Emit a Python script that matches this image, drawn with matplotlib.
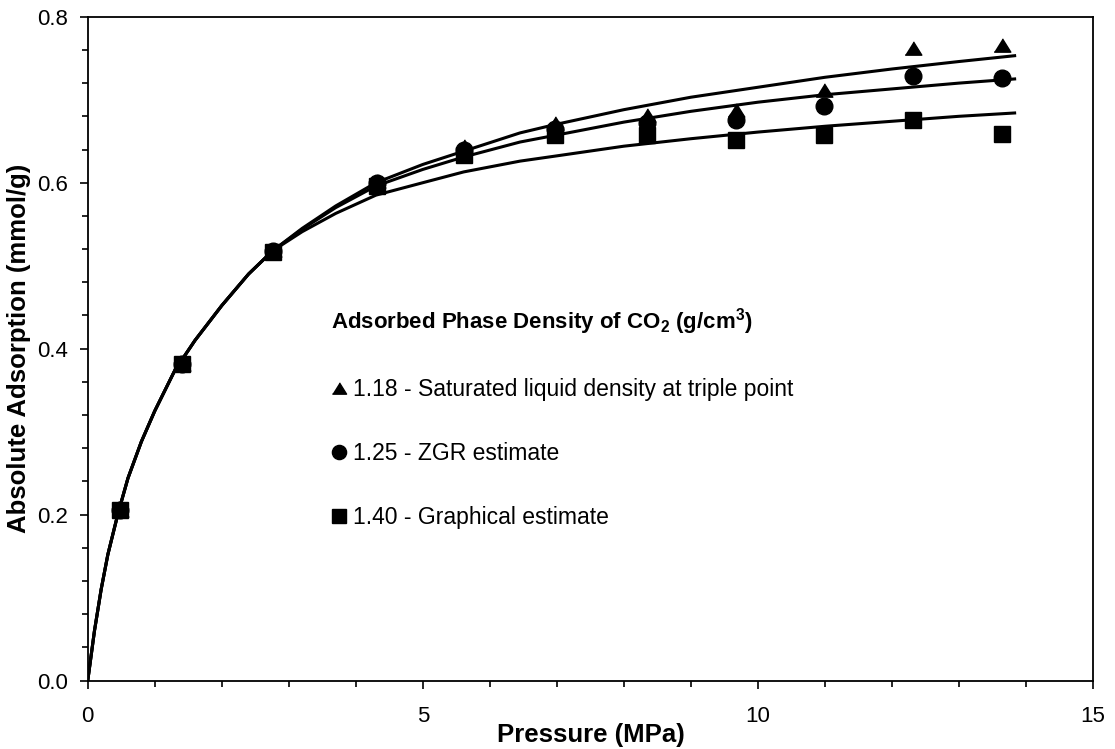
import matplotlib
matplotlib.use("Agg")
import matplotlib.pyplot as plt

plt.rcParams['font.family'] = ['Liberation Sans', 'DejaVu Sans']
plt.rcParams['mathtext.fontset'] = 'custom'
plt.rcParams['mathtext.rm'] = 'Liberation Sans'
plt.rcParams['mathtext.bf'] = 'Liberation Sans:bold'

# measured points (pressure MPa, absolute adsorption mmol/g)
pressure = [0.48, 1.40, 2.76, 4.31, 5.61, 6.97, 8.34, 9.67, 10.98, 12.32, 13.64]
ads_118 = [0.206, 0.382, 0.519, 0.602, 0.644, 0.672, 0.681, 0.688, 0.712, 0.762, 0.766]
ads_125 = [0.206, 0.382, 0.518, 0.600, 0.640, 0.665, 0.672, 0.676, 0.693, 0.729, 0.726]
ads_140 = [0.206, 0.382, 0.517, 0.596, 0.633, 0.658, 0.658, 0.652, 0.657, 0.675, 0.659]

# fitted curves
fit_p = [0, 0.1, 0.2, 0.3, 0.45, 0.6, 0.8, 1.0, 1.3, 1.6, 2.0, 2.4, 2.76,
         3.2, 3.7, 4.3, 5.0, 5.61, 6.45, 6.97, 8.0, 9.0, 10.0, 11.0, 12.0, 13.0, 13.83]
fit_low = [0, 0.06, 0.11, 0.152, 0.201, 0.244, 0.288, 0.325, 0.374, 0.410, 0.452, 0.490, 0.518]
fit_118 = fit_low + [0.545, 0.572, 0.600, 0.622, 0.638, 0.660, 0.670, 0.688, 0.703, 0.715, 0.727, 0.737, 0.746, 0.753]
fit_125 = fit_low + [0.544, 0.570, 0.596, 0.616, 0.631, 0.649, 0.657, 0.673, 0.686, 0.697, 0.706, 0.713, 0.720, 0.725]
fit_140 = fit_low + [0.541, 0.563, 0.585, 0.600, 0.613, 0.626, 0.632, 0.644, 0.653, 0.661, 0.668, 0.674, 0.680, 0.684]

labels = ['1.18 - Saturated liquid density at triple point',
          '1.25 - ZGR estimate',
          '1.40 - Graphical estimate']

tri = [(-1, -0.8), (1, -0.8), (0, 0.8)]

fig = plt.figure(figsize=(11.15, 7.49), dpi=100)
ax = fig.add_axes([0.0787, 0.0912, 0.9016, 0.8865])

for fit in [fit_118, fit_125, fit_140]:
    ax.plot(fit_p, fit, color='black', lw=2.2, zorder=2)

ax.plot(pressure, ads_118, ls='none', marker=tri, ms=12, color='black', label=labels[0], zorder=3)
ax.plot(pressure, ads_125, ls='none', marker='o', ms=12, color='black', label=labels[1], zorder=3)
ax.plot(pressure, ads_140, ls='none', marker='s', ms=11.5, color='black', label=labels[2], zorder=3)

ax.set_xlim(0, 15)
ax.set_ylim(0, 0.8)
ax.set_xticks([0, 5, 10, 15])
ax.set_xticks(range(16), minor=True)
ax.set_yticks([0.0, 0.2, 0.4, 0.6, 0.8])
ax.set_yticks([i * 0.04 for i in range(21)], minor=True)
ax.set_yticklabels(['0.0', '0.2', '0.4', '0.6', '0.8'])
ax.tick_params(axis='both', which='both', direction='out', width=1.2, colors='black', labelsize=16)
ax.tick_params(axis='both', which='major', length=5.5)
ax.tick_params(axis='both', which='minor', length=4.5)
ax.tick_params(axis='x', pad=13)
ax.tick_params(axis='y', pad=9)
for s in ax.spines.values():
    s.set_linewidth(1.3)
    s.set_color('black')

ax.set_xlabel('Pressure (MPa)', fontsize=18.5, fontweight='bold', labelpad=-3)
ax.set_ylabel('Absolute Adsorption (mmol/g)', fontsize=18.5, fontweight='bold', labelpad=4)

leg = ax.legend(loc='upper left', bbox_to_anchor=(0.231, 0.582), frameon=False,
                title=r'Adsorbed Phase Density of CO$_\mathbf{2}$ (g/cm$^\mathbf{3}$)',
                title_fontproperties={'weight': 'bold', 'size': 16},
                alignment='left', fontsize=16.5, borderpad=0, handlelength=0.7,
                handletextpad=0.25, labelspacing=1.8, markerscale=0.85)

fig.savefig('out.png', dpi=100)
